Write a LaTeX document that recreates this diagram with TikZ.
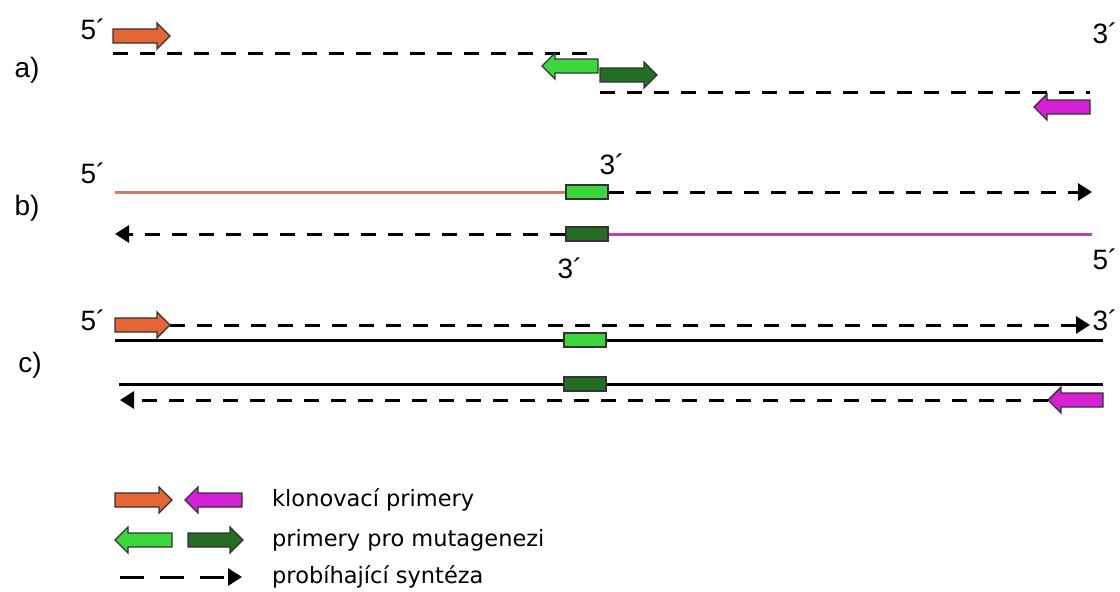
\documentclass[tikz,border=0pt]{standalone}
\usepackage{fontspec}
\setmainfont{Liberation Sans}
\newfontfamily\legendfont{DejaVu Sans}
\usetikzlibrary{arrows.meta}

\definecolor{fwdprimer}{RGB}{228,102,52}
\definecolor{revprimer}{RGB}{214,32,214}
\definecolor{mutlight}{RGB}{60,215,60}
\definecolor{mutdark}{RGB}{35,110,35}
\definecolor{fwdline}{RGB}{196,128,104}
\definecolor{revline}{RGB}{182,70,182}

% block arrow of a primer: tail x, tip x, y, fill colour
\newcommand{\primer}[4]{%
    \pgfmathsetmacro{\headx}{#2 - 13*sign(#2-#1)}
    \draw[line width=1.4pt, draw=black!80, fill=#4]
        (#1,#3-7) -- (\headx,#3-7) -- (\headx,#3-13) -- (#2,#3)
        -- (\headx,#3+13) -- (\headx,#3+7) -- (#1,#3+7) -- cycle;
}

\begin{document}
\begin{tikzpicture}[x=1pt, y=-1pt,
    strand/.style={line width=3pt},
    synth/.style={line width=3pt, dash pattern=on 15pt off 12pt},
    synthtip/.style={synth, -{Triangle[length=14pt,width=17pt]}},
    mutbox/.style={draw=black!80, line width=1.4pt, minimum width=42pt, minimum height=14pt, inner sep=0pt},
    lbl/.style={font=\fontsize{28}{28}\selectfont, inner sep=0pt},
    legendtext/.style={font=\legendfont\fontsize{22.5}{22.5}\selectfont, anchor=west, inner sep=0pt}]
    \useasboundingbox (0,0) rectangle (1120,592);

    % a) the two halves
    \node[lbl] (rowA) at (27,70) {a)};
    \node[lbl] (fiveA) at (93,29) {5´};
    \node[lbl] (threeA) at (1105,33) {3´};
    \coordinate (a1) at (113,53);
    \coordinate (a2) at (598,53);
    \coordinate (a3) at (600,92);
    \coordinate (a4) at (1090,92);
    \draw[synth] (a1) -- (a2);
    \draw[synth] (a3) -- (a4);
    \primer{113}{170}{36}{fwdprimer}
    \primer{598}{542}{66}{mutlight}
    \primer{600}{657}{75}{mutdark}
    \primer{1090}{1034}{107}{revprimer}

    % b) overlapping products
    \node[lbl] (rowB) at (27,208) {b)};
    \node[lbl] (fiveB) at (93,173) {5´};
    \node[lbl] (threeB) at (612,164) {3´};
    \node[lbl] (threeB2) at (570,268) {3´};
    \node[lbl] (fiveB2) at (1105,259) {5´};
    \node[mutbox, fill=mutlight] (mutB1) at (587,192) {};
    \node[mutbox, fill=mutdark] (mutB2) at (587,234) {};
    \coordinate (b1) at (115,192);
    \coordinate (b2) at (1092,192);
    \coordinate (b3) at (115,234);
    \coordinate (b4) at (1092,234);
    \draw[strand, fwdline] (b1) -- (mutB1.west);
    \draw[synthtip] (mutB1.east) -- (b2);
    \draw[synthtip] (mutB2.west) -- (b3);
    \draw[strand, revline] (mutB2.east) -- (b4);

    % c) full length product
    \node[lbl] (rowC) at (30,365) {c)};
    \node[lbl] (fiveC) at (93,320) {5´};
    \node[lbl] (threeC) at (1105,320) {3´};
    \node[mutbox, fill=mutlight] (mutC1) at (585,340) {};
    \node[mutbox, fill=mutdark] (mutC2) at (585,384) {};
    \coordinate (c1) at (170,325);
    \coordinate (c2) at (1090,325);
    \coordinate (c3) at (115,340);
    \coordinate (c4) at (1103,340);
    \coordinate (c5) at (119,384);
    \coordinate (c6) at (1103,384);
    \coordinate (c7) at (1048,400);
    \coordinate (c8) at (120,400);
    \draw[synthtip] (c1) -- (c2);
    \draw[strand] (c3) -- (mutC1.west);
    \draw[strand] (mutC1.east) -- (c4);
    \draw[strand] (c5) -- (mutC2.west);
    \draw[strand] (mutC2.east) -- (c6);
    \draw[synthtip] (c7) -- (c8);
    \primer{115}{170}{325}{fwdprimer}
    \primer{1103}{1048}{400}{revprimer}

    % legend
    \primer{115}{172}{500}{fwdprimer}
    \primer{242}{185}{500}{revprimer}
    \primer{172}{115}{540}{mutlight}
    \primer{188}{243}{540}{mutdark}
    \coordinate (k1) at (120,577);
    \coordinate (k2) at (242,577);
    \draw[line width=3pt, dash pattern=on 24pt off 16pt, -{Triangle[length=14pt,width=17pt]}] (k1) -- (k2);
    \node[legendtext] (legKlon) at (272,500) {klonovací primery};
    \node[legendtext] (legMut) at (272,540) {primery pro mutagenezi};
    \node[legendtext] (legSynt) at (272,577) {probíhající syntéza};
\end{tikzpicture}
\end{document}
